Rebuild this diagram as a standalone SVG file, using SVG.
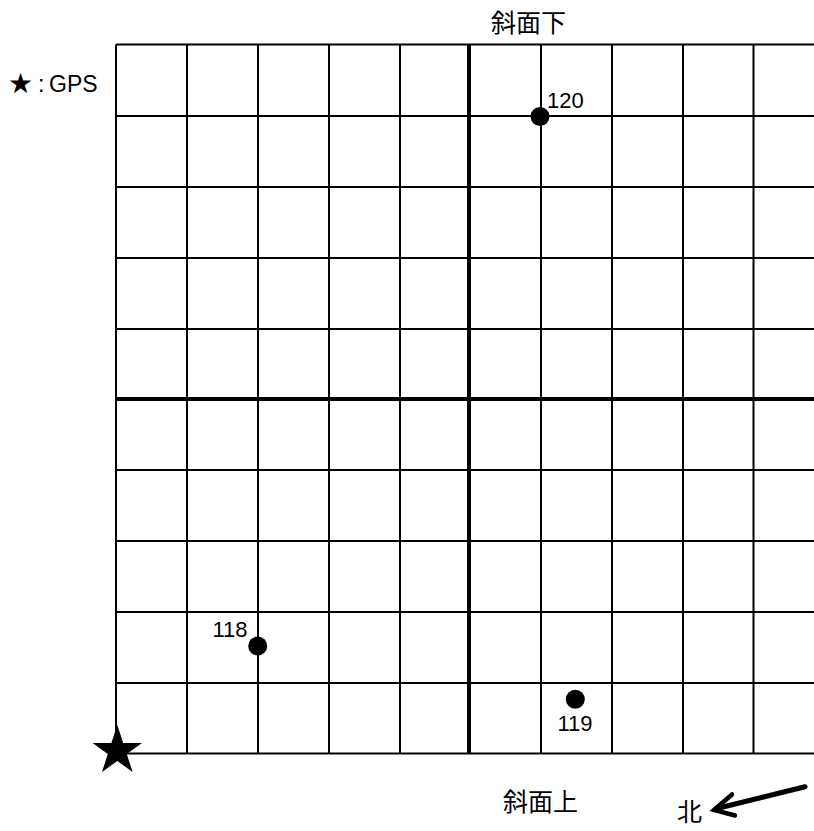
<svg xmlns="http://www.w3.org/2000/svg" width="814" height="831" viewBox="0 0 814 831">
<style>
.g{stroke:#000;stroke-width:2;fill:none}
.t{stroke:#000;stroke-width:4;fill:none}
.num{font-family:"Liberation Sans",Arial,sans-serif;font-size:22px;fill:#000}
.cjk{font-family:"Noto Sans CJK JP","Noto Sans CJK SC",sans-serif;font-size:25px;fill:#000}
.dot{fill:#000}
</style>
<rect width="814" height="831" fill="#fff"/>
<g id="grid">
<path class="g" d="M116,44.5V753.5M187,44.5V753.5M258,44.5V753.5M329,44.5V753.5M400,44.5V753.5M541,44.5V753.5M612,44.5V753.5M683,44.5V753.5M753.5,44.5V753.5"/>
<path class="g" d="M116,44.5H814M116,116H814M116,187H814M116,258H814M116,329H814M116,470H814M116,541H814M116,612H814M116,683H814M116,753.5H814"/>
<path class="t" d="M469,44.5V753.5M116,399H814"/>
</g>
<g id="point-120">
<circle class="dot" cx="540" cy="116.5" r="9.5"/>
<text class="num" x="547" y="108">120</text>
</g>
<g id="point-118">
<circle class="dot" cx="257.7" cy="646" r="9.5"/>
<text class="num" x="212.5" y="637">118</text>
</g>
<g id="point-119">
<circle class="dot" cx="575.3" cy="699.3" r="9.5"/>
<text class="num" x="557.5" y="730.5">119</text>
</g>
<g id="gps-star">
<polygon fill="#000" points="117.3,725 123.2,742.9 142,743 126.8,754.1 132.6,772 117.3,761 102,772 107.8,754.1 92.6,743 111.4,742.9"/>
</g>
<g id="legend">
<text x="8" y="93" style="font-family:'DejaVu Sans',sans-serif;font-size:28px">★</text>
<text class="num" x="38" y="92" style="font-size:23px">:</text>
<text class="num" x="49" y="92" style="font-size:23px">GPS</text>
</g>
<g id="labels">
<text class="cjk" x="491" y="32">斜面下</text>
<text class="cjk" x="503" y="811">斜面上</text>
<text class="cjk" x="677" y="821">北</text>
</g>
<g id="connectors">
<path d="M805,786.7L717,808.5" stroke="#000" stroke-width="5" fill="none" stroke-linecap="round"/>
<path d="M732,794.5L714,810L735,815.5" stroke="#000" stroke-width="4.5" fill="none" stroke-linecap="round" stroke-linejoin="miter"/>
</g>
</svg>
